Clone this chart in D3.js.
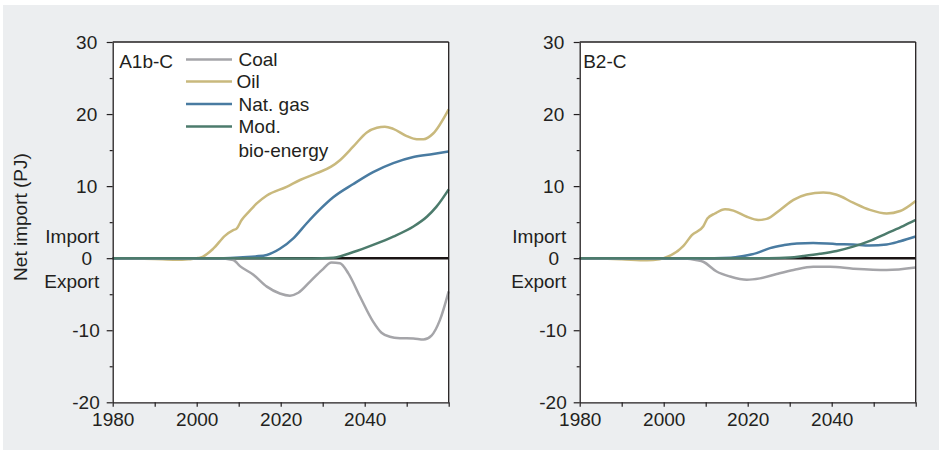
<!DOCTYPE html>
<html>
<head>
<meta charset="utf-8">
<script src="https://cdn.jsdelivr.net/npm/d3@7"></script>
<style>
  html, body { margin: 0; padding: 0; background: #ffffff; }
  svg { display: block; }
  text { font-family: "Liberation Sans", Arial, Helvetica, sans-serif; fill: #231f20; }
</style>
</head>
<body>
<svg id="chart" width="939" height="451"></svg>
<script>
// Net import (PJ) by energy carrier, two scenarios, 1980–2060.
// Each series is a list of [year, value] pairs.

const seriesNames = ["Coal", "Oil", "Nat. gas", "Mod. bio-energy"];
const legendLines = [["Coal"], ["Oil"], ["Nat. gas"], ["Mod.", "bio-energy"]];
const panelTitles = ["A1b-C", "B2-C"];

const yTickValues = [-20, -15, -10, -5, 0, 5, 10, 15, 20, 25, 30];
const yTickLabels = [-20, -10, 0, 10, 20, 30];
const xTickValues = [1980, 1990, 2000, 2010, 2020, 2030, 2040, 2050, 2060];
const xTickLabels = [1980, 2000, 2020, 2040];

// Scenario A1b-C
const a1bCoal = [[1980,0],[2000,0],[2005,-0.02],[2008.7,-0.25],[2010.3,-1.1],[2013.5,-2.3],[2016.7,-3.95],
  [2019.8,-4.9],[2022.2,-5.2],[2024.2,-4.8],[2027,-3.25],[2029.8,-1.65],[2032.1,-0.6],[2034.1,-0.7],
  [2036.1,-2.1],[2038.9,-5.35],[2042,-8.8],[2044,-10.35],[2046,-10.9],[2048.4,-11.1],[2051.6,-11.15],
  [2054,-11.3],[2055.9,-10.75],[2057.9,-8.6],[2060,-4.6]];
const a1bOil = [[1980,0],[1985,-0.05],[1990,-0.12],[1995,-0.22],[1998,-0.15],[2000,0],[2000.8,0.05],
  [2004,1.35],[2006.7,3.1],[2008.7,3.9],[2009.5,4.1],[2010.7,5.3],[2012.5,6.5],[2014.3,7.6],[2016.7,8.7],
  [2021.4,9.9],[2024.6,10.85],[2028.6,11.8],[2032,12.7],[2034.1,13.6],[2037.3,15.5],[2040.5,17.45],
  [2042.9,18.1],[2044.8,18.25],[2046.8,17.95],[2050,16.95],[2052.4,16.5],[2054,16.5],[2056.3,17.3],[2060,20.65]];
const a1bGas = [[1980,0],[2005,0],[2008,0.03],[2012,0.15],[2014,0.25],[2016.7,0.45],[2019.8,1.3],
  [2023,2.75],[2026.2,4.85],[2029.4,6.8],[2032.5,8.45],[2037.3,10.3],[2042,11.95],[2046.8,13.2],
  [2051.6,14.05],[2056.3,14.45],[2060,14.8]];
const a1bBio = [[1980,0],[2015,0],[2020,-0.03],[2025,-0.05],[2030,-0.02],[2032.5,0.05],[2037.3,0.85],
  [2042,1.85],[2046.8,3.0],[2051.6,4.4],[2054.8,5.75],[2057.1,7.15],[2060,9.55]];

// Scenario B2-C
const b2Coal = [[1980,0],[2000,0],[2005,-0.05],[2008,-0.3],[2009.4,-0.5],[2012.6,-1.85],[2015.8,-2.55],
  [2019.8,-3.0],[2022.9,-2.8],[2026.9,-2.2],[2030.9,-1.65],[2035.6,-1.2],[2039.6,-1.2],[2045.1,-1.45],
  [2053.1,-1.65],[2060,-1.3]];
const b2Oil = [[1980,0],[1985,-0.05],[1990,-0.15],[1996,-0.3],[1999,-0.15],[2000,0],[2004.7,1.7],
  [2006.7,3.2],[2009.4,4.4],[2010.4,5.5],[2012.2,6.2],[2014.6,6.8],[2016.6,6.6],[2019.8,5.75],
  [2022.5,5.3],[2024.5,5.45],[2027.7,6.7],[2030.9,8.1],[2034,8.85],[2038,9.1],[2041.2,8.8],[2045.1,7.7],
  [2049.1,6.7],[2053.1,6.2],[2056.3,6.55],[2060,7.95]];
const b2Gas = [[1980,0],[2012,0],[2016,0.05],[2019,0.3],[2022.1,0.7],[2025.3,1.4],[2028.5,1.8],
  [2031.7,2.05],[2035.6,2.1],[2041.2,1.95],[2045.1,1.9],[2049,1.75],[2053.1,1.9],[2056.3,2.35],[2060,3.0]];
const b2Bio = [[1980,0],[2025,0],[2030.1,0.1],[2033.2,0.3],[2037.2,0.6],[2041.2,1.0],[2045.1,1.6],
  [2049.1,2.4],[2053.1,3.45],[2057,4.45],[2060,5.3]];

// same order as seriesNames
const panelSeries = [
  [a1bCoal, a1bOil, a1bGas, a1bBio],
  [b2Coal, b2Oil, b2Gas, b2Bio]
];
// draw order: oil, coal, gas, bio (bio on top)
const seriesOrder = ["Oil", "Coal", "Nat. gas", "Mod. bio-energy"];
const colors = {
  "Coal": "#a5a5a9",
  "Oil": "#c9b97d",
  "Nat. gas": "#497ba1",
  "Mod. bio-energy": "#4c7b6c"
};

const ink = "#231f20";
const svg = d3.select("#chart");

// panel background
svg.append("rect").attr("x", 3).attr("y", 5).attr("width", 936).attr("height", 445)
  .attr("fill", "#eceef0");

const plotTop = 42, plotBottom = 402.3, plotWidth = 336;
const panelLefts = [112.7, 579.7];
const fontSize = 19;

const y = d3.scaleLinear().domain([-20, 30]).range([plotBottom, plotTop]);

panelLefts.forEach((left, pi) => {
  const x = d3.scaleLinear().domain([1980, 2060]).range([left, left + plotWidth]);
  const g = svg.append("g");

  // white plotting area
  g.append("rect").attr("x", left).attr("y", plotTop)
    .attr("width", plotWidth).attr("height", plotBottom - plotTop).attr("fill", "#ffffff");

  // zero line
  g.append("line").attr("x1", x(1980)).attr("x2", x(2060)).attr("y1", y(0)).attr("y2", y(0))
    .attr("stroke", "#1a1414").attr("stroke-width", 2.6);

  // series
  const line = d3.line().x(d => x(d[0])).y(d => y(d[1])).curve(d3.curveMonotoneX);
  seriesOrder.forEach(name => {
    const data = panelSeries[pi][seriesNames.indexOf(name)];
    g.append("path").datum(data).attr("d", line).attr("fill", "none")
      .attr("stroke", colors[name]).attr("stroke-width", 2.5)
      .attr("stroke-linejoin", "round").attr("stroke-linecap", "butt");
  });

  // frame: top and right
  g.append("line").attr("x1", left).attr("x2", left + plotWidth).attr("y1", plotTop).attr("y2", plotTop)
    .attr("stroke", ink).attr("stroke-width", 1.3);
  g.append("line").attr("x1", left + plotWidth).attr("x2", left + plotWidth).attr("y1", plotTop).attr("y2", plotBottom)
    .attr("stroke", ink).attr("stroke-width", 1.3);

  // y axis
  const yAxis = d3.axisLeft(y).tickValues(yTickValues).tickSize(6).tickSizeOuter(0).tickPadding(9.5)
    .tickFormat(d => yTickLabels.includes(d) ? String(d) : "");
  const ya = g.append("g").attr("transform", `translate(${left},0)`).call(yAxis);
  ya.select(".domain").attr("stroke", ink).attr("stroke-width", 1.3);
  ya.selectAll(".tick line").attr("stroke", ink).attr("stroke-width", 1.2)
    .attr("x2", d => yTickLabels.includes(d) ? -6 : -3);
  ya.selectAll(".tick text").attr("font-size", fontSize).attr("fill", ink)
    .style("font-family", '"Liberation Sans", Arial, sans-serif')
    .attr("dx", d => d === 0 ? -5 : (d < 0 ? 2.5 : 0));

  // Import / Export captions beside the zero tick
  g.append("text").attr("x", left - 13.5).attr("y", y(0) - 15.5).attr("text-anchor", "end")
    .attr("font-size", fontSize).text("Import");
  g.append("text").attr("x", left - 13.5).attr("y", y(0) + 29.5).attr("text-anchor", "end")
    .attr("font-size", fontSize).text("Export");

  // x axis
  const xAxis = d3.axisBottom(x).tickValues(xTickValues).tickSize(4.5).tickSizeOuter(0).tickPadding(6)
    .tickFormat(d => xTickLabels.includes(d) ? String(d) : "");
  const xa = g.append("g").attr("transform", `translate(0,${plotBottom})`).call(xAxis);
  xa.select(".domain").attr("stroke", ink).attr("stroke-width", 1.3);
  xa.selectAll(".tick line").attr("stroke", ink).attr("stroke-width", 1.2);
  xa.selectAll(".tick text").attr("font-size", fontSize).attr("fill", ink)
    .style("font-family", '"Liberation Sans", Arial, sans-serif');

  // panel title
  g.append("text").attr("x", left + (pi === 0 ? 6.5 : 3.5)).attr("y", 68.3)
    .attr("font-size", fontSize).text(panelTitles[pi]);
});

// y axis title
svg.append("text").attr("transform", "translate(26.5,217) rotate(-90)")
  .attr("text-anchor", "middle").attr("font-size", fontSize).text("Net import (PJ)");

// legend (left panel)
const legendY = [59.5, 81.5, 104, 126.5];
const leg = svg.append("g");
seriesNames.forEach((name, i) => {
  leg.append("line").attr("x1", 186).attr("x2", 232).attr("y1", legendY[i]).attr("y2", legendY[i])
    .attr("stroke", colors[name]).attr("stroke-width", 2.5);
  legendLines[i].forEach((txt, j) => {
    leg.append("text").attr("x", i === 1 ? 236.5 : 238.5).attr("y", legendY[i] + 6.8 + j * 23.5)
      .attr("font-size", fontSize).text(txt);
  });
});
</script>
</body>
</html>
